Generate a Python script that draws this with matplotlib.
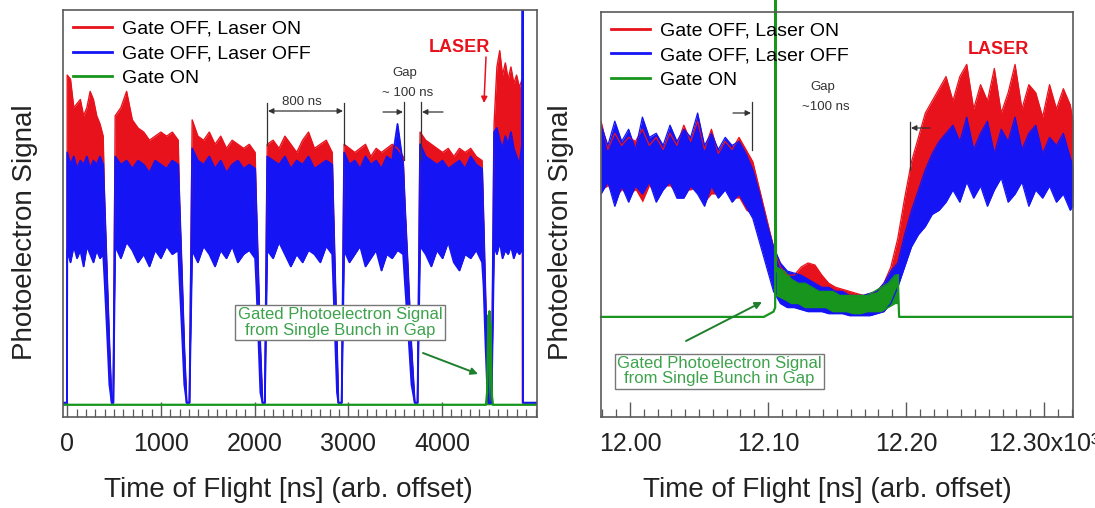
import numpy as np
import matplotlib
matplotlib.use("Agg")
import matplotlib.pyplot as plt
from matplotlib.lines import Line2D
from matplotlib.ticker import MultipleLocator

plt.rcParams['font.family'] = ['Liberation Sans', 'DejaVu Sans']

RED = '#e8121c'
BLUE = '#1414f5'
GREEN = '#17951c'
BOXGREEN = '#3da24c'
INK = '#222222'

# ---------- left panel: time of flight [ns], signal in arb. units (0..100)
# bunch-train segments (start .. end of each 800 ns train slice)
seg_t = [
    [0, 35, 70, 105, 140, 175, 210, 245, 280, 315, 350, 384],
    [512, 573, 634, 695, 756, 817, 878, 939, 1000, 1061, 1122, 1185],
    [1334, 1395, 1456, 1517, 1578, 1639, 1700, 1761, 1822, 1883, 1944, 2006],
    [2135, 2198, 2261, 2324, 2387, 2450, 2513, 2576, 2639, 2702, 2765, 2829],
    [2956, 3013, 3070, 3127, 3184, 3241, 3298, 3355, 3412, 3469, 3526, 3586],
    [3767, 3827, 3887, 3947, 4007, 4067, 4127, 4187, 4247, 4307, 4367, 4429],
    [4557, 4587, 4617, 4647, 4677, 4707, 4737, 4767, 4797, 4827, 4856],
]
blue_hi = [
    [65, 62, 64, 61, 63, 62, 64, 61, 63, 62, 64, 62],
    [64, 62, 63, 61, 63, 62, 60, 63, 62, 61, 63, 62],
    [66, 63, 62, 64, 61, 63, 60, 62, 63, 61, 62, 61],
    [64, 63, 62, 64, 61, 63, 62, 64, 61, 62, 63, 62],
    [65, 62, 63, 61, 64, 62, 63, 61, 64, 63, 72, 62],
    [67, 64, 63, 62, 63, 61, 62, 63, 61, 64, 62, 61],
    [70, 71, 68, 66, 69, 67, 70, 66, 64, 62, 67],
]
blue_lo = [
    [41, 38, 42, 39, 41, 37, 42, 40, 38, 41, 39, 40],
    [42, 39, 43, 41, 38, 40, 37, 41, 39, 42, 40, 41],
    [41, 38, 42, 40, 37, 41, 39, 42, 38, 40, 41, 39],
    [41, 39, 43, 40, 37, 40, 38, 41, 40, 38, 42, 40],
    [41, 38, 40, 42, 37, 39, 41, 36, 40, 39, 41, 40],
    [42, 40, 37, 41, 39, 43, 38, 36, 40, 39, 41, 38],
    [42, 40, 43, 39, 41, 40, 42, 39, 41, 40, 41],
]
red_hi = [
    [84, 83, 76, 77, 78, 74, 76, 80, 78, 74, 72, 69],
    [74, 76, 80, 73, 71, 70, 68, 69, 70, 69, 70, 68],
    [73, 69, 68, 70, 67, 69, 66, 68, 67, 66, 67, 65],
    [67, 68, 66, 69, 67, 65, 68, 70, 66, 67, 68, 65],
    [67, 66, 65, 66, 67, 64, 66, 65, 66, 67, 66, 64],
    [70, 68, 67, 66, 65, 66, 64, 66, 65, 66, 64, 63],
    [72, 86, 90, 84, 87, 83, 86, 82, 84, 81, 83],
]
# dips between the trains (signal falls to baseline)
dip_t = [
    [400, 425, 450, 475, 492],
    [1200, 1225, 1250, 1275, 1305],
    [2020, 2040, 2062, 2085, 2110],
    [2843, 2862, 2880, 2895, 2930],
    [3605, 3640, 3675, 3710, 3740],
    [4445, 4465, 4485, 4500, 4530],
]
dip_hi = [
    [52, 35, 18, 3.5, 3.5],
    [52, 35, 17, 3.5, 3.5],
    [51, 35, 17, 3.5, 3.5],
    [50, 33, 17, 3.5, 3.5],
    [52, 35, 17, 3.5, 3.5],
    [48, 30, 12, 3.5, 3.5],
]
dip_lo = [
    [33, 21, 8, 3.5, 3.5],
    [33, 21, 8, 3.5, 3.5],
    [32, 20, 6, 3.5, 3.5],
    [31, 18, 6, 3.5, 3.5],
    [33, 21, 8, 3.5, 3.5],
    [32, 18, 6, 3.5, 3.5],
]
lead_t, lead_v = [-45, -2], [3.5, 3.5]
blue_tail_t, blue_tail_v = [4862, 4866, 5015], [105, 3.5, 3.5]
red_tail_t, red_tail_v = [4859, 4866, 5015], [3.5, 3.5, 3.5]
red_spike_t = [4478, 4488, 4494, 4500, 4510]
red_spike_v = [3.5, 18, 22, 12, 3.5]
green_t = [-45, 4470, 4482, 4490, 4496, 4502, 4508, 4514, 4520, 4527, 4535, 4545, 5015]
green_v = [3, 3, 6, 18, 25, 20, 26, 19, 23, 12, 5, 3, 3]
left_ticks = [0, 1000, 2000, 3000, 4000]

# ---------- right panel: zoom around the gap (x10^3 ns)
right_x = [11.979, 11.984, 11.989, 11.994, 11.999, 12.004, 12.009, 12.014, 12.019, 12.024,
           12.029, 12.034, 12.039, 12.044, 12.049, 12.054, 12.059, 12.064, 12.069, 12.074,
           12.079, 12.084, 12.089, 12.094, 12.099, 12.104, 12.109, 12.114, 12.119, 12.124,
           12.129, 12.134, 12.139, 12.144, 12.149, 12.154, 12.159, 12.164, 12.169, 12.174,
           12.179, 12.184, 12.189, 12.194, 12.199, 12.204, 12.209, 12.214, 12.219, 12.224,
           12.229, 12.234, 12.239, 12.244, 12.249, 12.254, 12.259, 12.264, 12.269, 12.274,
           12.279, 12.284, 12.289, 12.294, 12.299, 12.304, 12.309, 12.314, 12.319, 12.321]
r_blue_hi = [72, 67, 73, 68, 71, 66, 74, 69, 70, 67, 72, 68, 71, 69, 75, 67, 70, 66, 69, 67,
             68, 65, 61, 55, 48, 42, 38, 36, 35.5, 35, 34, 33, 32, 32, 31, 31, 30, 30, 30, 30.5,
             31, 33, 36, 38, 45, 51, 56, 61, 65, 68, 70, 72, 68, 74, 66, 70, 73, 65, 71, 68,
             74, 66, 70, 72, 65, 69, 67, 70, 64, 62]
r_blue_lo = [55, 58, 52, 57, 53, 57, 55, 58, 53, 56, 58, 54, 54, 57, 55, 52, 57, 54, 56, 53,
             55, 52, 49, 43, 37, 31, 28, 27, 27, 26.5, 26, 26, 26, 25.5, 25.5, 25.5, 25, 25, 25, 25,
             25.5, 26, 28, 32, 37, 42, 45, 47, 50, 51, 53, 56, 53, 58, 54, 57, 52, 56, 59, 53,
             55, 58, 52, 56, 54, 57, 53, 55, 51, 52]
r_red_hi = [73, 66, 70, 67, 69, 68, 71, 67, 69, 66, 70, 67, 72, 68, 73, 66, 71, 65, 68, 66,
            69, 66, 63, 56, 49, 42, 37, 35, 35, 37, 38, 37.5, 35, 33, 32, 31.5, 31, 30.5, 30, 30.5,
            31, 33, 37, 44, 54, 63, 69, 75, 78, 81, 84, 78, 84, 87, 76, 82, 78, 86, 75, 80,
            87, 76, 82, 80, 74, 82, 76, 81, 77, 73]
r_red_lo = [56, 57, 54, 56, 55, 56, 53, 57, 55, 57, 57, 55, 56, 56, 57, 53, 55, 55, 57, 54,
            54, 51, 50, 44, 38, 32, 28, 28, 28, 28, 28, 28, 27, 27, 27, 26.5, 26, 26, 26, 26,
            26, 27, 30, 33, 39, 44, 47, 50, 53, 55, 56, 58, 56, 60, 57, 59, 55, 58, 60, 56,
            58, 60, 55, 58, 57, 59, 56, 58, 54, 55]
g_line_x = [11.979, 12.097, 12.104, 12.1052, 12.1055, 12.1058]
g_line_v = [24.7, 24.7, 26, 27, 110, 36]
g_band_x = [12.106, 12.112, 12.117, 12.122, 12.127, 12.132, 12.137, 12.142, 12.147, 12.152,
            12.157, 12.162, 12.167, 12.172, 12.177, 12.182, 12.187, 12.192, 12.194]
g_band_hi = [37, 36, 34, 33, 33, 32, 31, 31, 31, 30, 30, 30, 30, 30, 31, 32, 33, 35, 35]
g_band_lo = [30, 29, 28, 28, 27, 27, 27, 27, 26, 26, 26, 25.5, 25.5, 26, 26, 26, 27, 28, 28]
g_tail_x = [12.194, 12.195, 12.321]
g_tail_v = [35, 24.7, 24.7]
right_ticks = [12.00, 12.10, 12.20, 12.30]
right_ticklabels = ['12.00', '12.10', '12.20', '12.30x10³']

legend_labels = ['Gate OFF, Laser ON', 'Gate OFF, Laser OFF', 'Gate ON']

# ---------- assemble left traces
t_b, bh, bl = list(lead_t), list(lead_v), list(lead_v)
t_r, rh, rl = list(lead_t), list(lead_v), list(lead_v)
for i in range(7):
    t_b += seg_t[i]; bh += blue_hi[i]; bl += blue_lo[i]
    t_r += seg_t[i]; rh += red_hi[i]; rl += blue_lo[i]
    if i < 6:
        t_b += dip_t[i]; bh += dip_hi[i]; bl += dip_lo[i]
        t_r += dip_t[i]; rh += dip_hi[i]; rl += dip_lo[i]
t_b += blue_tail_t; bh += blue_tail_v; bl += blue_tail_v
t_r += red_tail_t; rh += red_tail_v; rl += red_tail_v

W, H = 1095.0, 508.0
fig = plt.figure(figsize=(W / 100, H / 100), dpi=100)


def P(x, y):
    return (x / W, 1 - y / H)


axL = fig.add_axes([63 / W, 1 - 417 / H, (537 - 63) / W, (417 - 10) / H])
axR = fig.add_axes([601 / W, 1 - 417 / H, (1073 - 601) / W, (417 - 11.7) / H])

# left traces
axL.fill_between(t_r, rl, rh, color=RED, lw=0)
axL.plot(t_r, rh, color=RED, lw=1.0)
axL.fill_between(red_spike_t, 3.5, red_spike_v, color=RED, lw=0)
axL.fill_between(t_b, bl, bh, color=BLUE, lw=0)
axL.plot(t_b, bh, color=BLUE, lw=1.3)
axL.plot(t_b, bl, color=BLUE, lw=1.3)
axL.fill_between(green_t, 3, green_v, color=GREEN, lw=0)
axL.plot(green_t, green_v, color=GREEN, lw=1.6)

# right traces
axR.fill_between(right_x, r_red_lo, r_red_hi, color=RED, lw=0)
axR.plot(right_x, r_red_hi, color=RED, lw=0.9)
axR.fill_between(right_x, r_blue_lo, r_blue_hi, color=BLUE, lw=0)
axR.plot(right_x, r_blue_hi, color=BLUE, lw=0.9)
axR.plot(right_x, r_blue_lo, color=BLUE, lw=0.9)
axR.fill_between(g_band_x, g_band_lo, g_band_hi, color=GREEN, lw=0)
axR.plot(g_band_x, g_band_hi, color=GREEN, lw=0.9)
axR.plot(g_band_x, g_band_lo, color=GREEN, lw=0.9)
axR.plot(g_line_x, g_line_v, color=GREEN, lw=1.6, clip_on=False)
axR.plot(g_tail_x, g_tail_v, color=GREEN, lw=1.6)

axL.set_xlim(-45, 5015)
axR.set_xlim(11.979, 12.321)
for ax in (axL, axR):
    ax.set_ylim(0, 100)
    ax.set_yticks([])
    for sp in ax.spines.values():
        sp.set_color('#5a5a5a')
        sp.set_linewidth(1.2)
    ax.tick_params(axis='x', which='both', direction='in', colors='#5a5a5a',
                   labelcolor=INK, labelsize=18, pad=11)
    ax.tick_params(axis='x', which='major', length=11, width=1.0)
    ax.tick_params(axis='x', which='minor', length=6, width=0.9)
    handles = [Line2D([], [], color=c, lw=2) for c in (RED, BLUE, GREEN)]
    ax.legend(handles, legend_labels, loc='upper left',
              bbox_to_anchor=(0.021, 0.975), borderaxespad=0, borderpad=0,
              frameon=False, fontsize=14, handlelength=2.0, handletextpad=0.5,
              labelspacing=0.36)

axL.set_xticks(left_ticks)
axL.xaxis.set_minor_locator(MultipleLocator(100))
axR.set_xticks(right_ticks)
axR.set_xticklabels(right_ticklabels)
axR.xaxis.set_minor_locator(MultipleLocator(0.01))

# axis titles
for xc in (288, 827):
    fig.text(*P(xc, 490), 'Time of Flight [ns] (arb. offset)', fontsize=20,
             color=INK, ha='center', va='center')
for xc in (25, 561):
    fig.text(*P(xc, 232), 'Photoelectron Signal', fontsize=20, color=INK,
             rotation=90, ha='center', va='center')


def vline(x, y0, y1):
    fig.add_artist(Line2D([x / W, x / W], [1 - y0 / H, 1 - y1 / H],
                          transform=fig.transFigure, color='#333333', lw=0.9))


def arrow(x0, y0, x1, y1, color='#333333', style='-|>', lw=0.9, ms=8):
    fig.add_artist(matplotlib.patches.FancyArrowPatch(
        P(x0, y0), P(x1, y1), transform=fig.transFigure, arrowstyle=style,
        mutation_scale=ms, color=color, lw=lw, shrinkA=0, shrinkB=0))


def small(x, y, s):
    fig.text(*P(x, y), s, fontsize=9.5, color='#333333', ha='center', va='center')


# left annotations
vline(267, 103, 145)
vline(344, 103, 145)
arrow(268, 111, 343, 111, style='<|-|>')
small(302, 102, '800 ns')
vline(404, 102, 160)
vline(421, 102, 160)
arrow(383, 112, 403, 112)
arrow(443, 112, 422, 112)
small(405, 73, 'Gap')
small(408, 93, '~ 100 ns')
fig.text(*P(459, 48), 'LASER', fontsize=13, fontweight='bold', color=RED,
         ha='center', va='center')
arrow(486, 57, 484, 103, color=RED, lw=1.1, ms=9)

# right annotations
fig.text(*P(998, 49), 'LASER', fontsize=13, fontweight='bold', color=RED,
         ha='center', va='center')
vline(752, 102, 150)
arrow(733, 113, 751, 113)
vline(910, 122, 170)
arrow(930, 128, 911, 128)
small(823, 87, 'Gap')
small(826, 107, '~100 ns')

box_txt = 'Gated Photoelectron Signal\nfrom Single Bunch in Gap'
for (bx, by), (ax0, ay0, ax1, ay1) in [((340, 322.5), (423, 353, 478, 374)),
                                      ((719.5, 371), (686, 341, 762, 302))]:
    fig.text(*P(bx, by), box_txt, fontsize=12, color=BOXGREEN, ha='center',
             va='center', linespacing=1.0,
             bbox=dict(boxstyle='square,pad=0.15', fc='white', ec='#777777', lw=1.0))
    arrow(ax0, ay0, ax1, ay1, color='#1f7f2c', lw=1.4, ms=10)

fig.savefig('out.png', dpi=100)
